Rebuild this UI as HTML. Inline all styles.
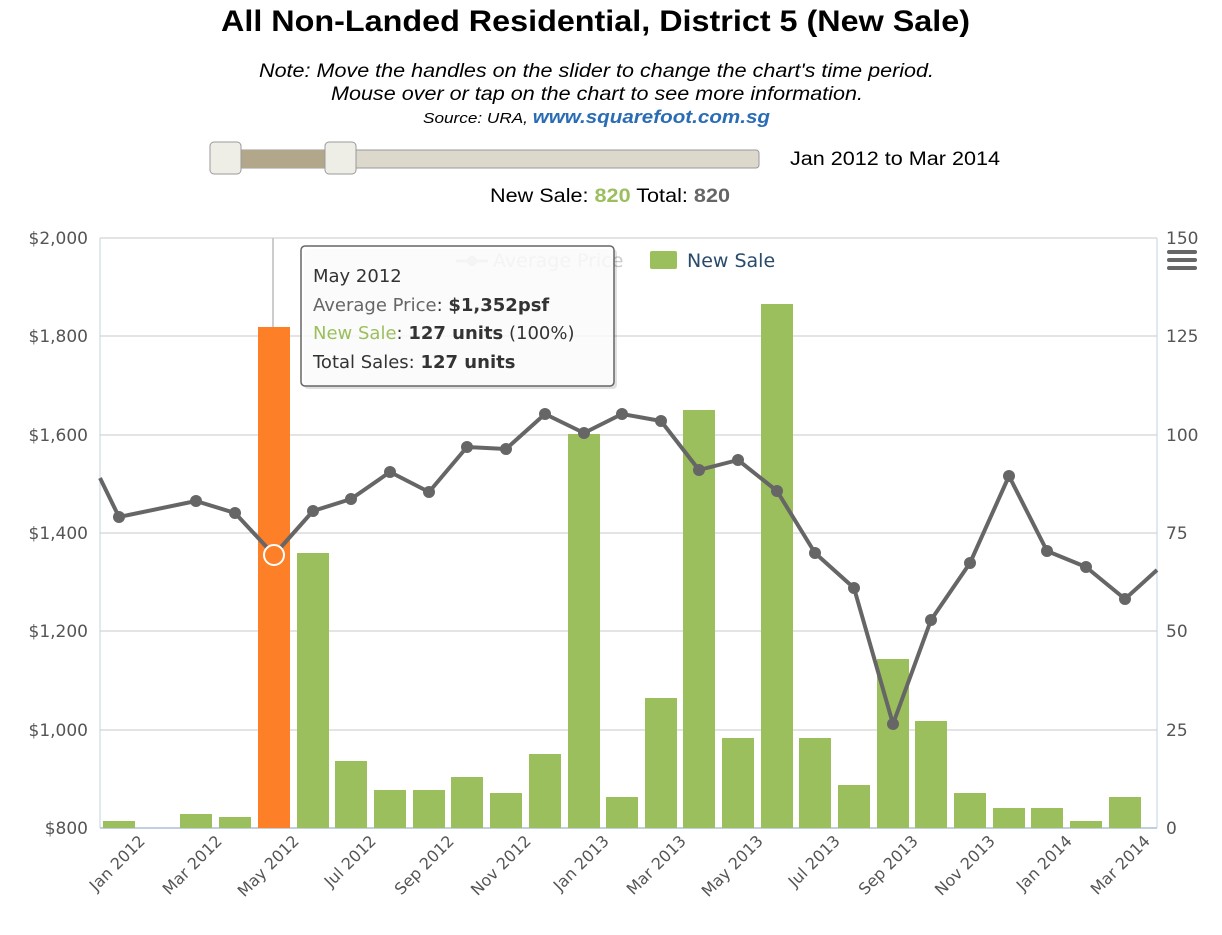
<!DOCTYPE html>
<html><head><meta charset="utf-8"><style>
body{margin:0;background:#fff;width:1222px;height:930px;overflow:hidden;font-family:"Liberation Sans",sans-serif}
</style></head><body>
<svg width="1222" height="930" xmlns="http://www.w3.org/2000/svg" font-family="Liberation Sans, sans-serif">
<text x="221" y="31" font-size="30" font-weight="bold" textLength="749" lengthAdjust="spacingAndGlyphs">All Non-Landed Residential, District 5 (New Sale)</text>
<text x="259" y="77" font-size="19" font-style="italic" textLength="675" lengthAdjust="spacingAndGlyphs">Note: Move the handles on the slider to change the chart's time period.</text>
<text x="331" y="100" font-size="19" font-style="italic" textLength="532" lengthAdjust="spacingAndGlyphs">Mouse over or tap on the chart to see more information.</text>
<text x="423" y="123" font-size="15" font-style="italic" textLength="347" lengthAdjust="spacingAndGlyphs">Source: URA, <tspan fill="#2a6db5" font-weight="bold" font-size="18">www.squarefoot.com.sg</tspan></text>
<rect x="212" y="150" width="547" height="18" rx="3" fill="#dcd8cc" stroke="#999"/>
<rect x="226" y="150" width="114" height="18" fill="#b3a78b"/>
<rect x="210" y="142" width="31" height="32" rx="4" fill="#efeee6" stroke="#999"/>
<rect x="325" y="142" width="31" height="32" rx="4" fill="#efeee6" stroke="#999"/>
<text x="790" y="165" font-size="19" textLength="210" lengthAdjust="spacingAndGlyphs">Jan 2012 to Mar 2014</text>
<text x="490" y="202" font-size="19" textLength="240" lengthAdjust="spacingAndGlyphs">New Sale: <tspan fill="#9bbf5c" font-weight="bold">820</tspan> Total: <tspan fill="#666" font-weight="bold">820</tspan></text>
<g stroke="#c8c8c8" stroke-width="1">
<line x1="100" y1="238" x2="1157" y2="238"/><line x1="100" y1="336" x2="1157" y2="336"/><line x1="100" y1="435" x2="1157" y2="435"/><line x1="100" y1="533" x2="1157" y2="533"/><line x1="100" y1="631" x2="1157" y2="631"/><line x1="100" y1="730" x2="1157" y2="730"/>
</g>
<line x1="100" y1="238" x2="100" y2="828" stroke="#c0d0e0"/>
<line x1="1157" y1="238" x2="1157" y2="828" stroke="#c0d0e0"/>
<line x1="100" y1="828" x2="1157" y2="828" stroke="#c0d0e0" stroke-width="2"/>
<line x1="273" y1="238" x2="273" y2="828" stroke="#ccc" stroke-width="2"/>
<g fill="#9bbf5c">
<rect x="103" y="821" width="32" height="7"/>
<rect x="180" y="814" width="32" height="14"/>
<rect x="219" y="817" width="32" height="11"/>
<rect x="297" y="553" width="32" height="275"/>
<rect x="335" y="761" width="32" height="67"/>
<rect x="374" y="790" width="32" height="38"/>
<rect x="413" y="790" width="32" height="38"/>
<rect x="451" y="777" width="32" height="51"/>
<rect x="490" y="793" width="32" height="35"/>
<rect x="529" y="754" width="32" height="74"/>
<rect x="568" y="434" width="32" height="394"/>
<rect x="606" y="797" width="32" height="31"/>
<rect x="645" y="698" width="32" height="130"/>
<rect x="683" y="410" width="32" height="418"/>
<rect x="722" y="738" width="32" height="90"/>
<rect x="761" y="304" width="32" height="524"/>
<rect x="799" y="738" width="32" height="90"/>
<rect x="838" y="785" width="32" height="43"/>
<rect x="877" y="659" width="32" height="169"/>
<rect x="915" y="721" width="32" height="107"/>
<rect x="954" y="793" width="32" height="35"/>
<rect x="993" y="808" width="32" height="20"/>
<rect x="1031" y="808" width="32" height="20"/>
<rect x="1070" y="821" width="32" height="7"/>
<rect x="1109" y="797" width="32" height="31"/>
</g>
<rect x="258" y="327" width="32" height="501" fill="#fd7f28"/>
<polyline fill="none" stroke="#666" stroke-width="4" stroke-linejoin="round" points="100,478 119,517 196,501 235,513 274,555 313,511 351,499 390,472 429,492 467,447 506,449 545,414 584,433 622,414 661,421 699,470 738,460 777,491 815,553 854,588 893,724 931,620 970,563 1009,476 1047,551 1086,567 1125,599 1157,570"/>
<g fill="#666">
<circle cx="119" cy="517" r="6"/><circle cx="196" cy="501" r="6"/><circle cx="235" cy="513" r="6"/><circle cx="313" cy="511" r="6"/><circle cx="351" cy="499" r="6"/><circle cx="390" cy="472" r="6"/><circle cx="429" cy="492" r="6"/><circle cx="467" cy="447" r="6"/><circle cx="506" cy="449" r="6"/><circle cx="545" cy="414" r="6"/><circle cx="584" cy="433" r="6"/><circle cx="622" cy="414" r="6"/><circle cx="661" cy="421" r="6"/><circle cx="699" cy="470" r="6"/><circle cx="738" cy="460" r="6"/><circle cx="777" cy="491" r="6"/><circle cx="815" cy="553" r="6"/><circle cx="854" cy="588" r="6"/><circle cx="893" cy="724" r="6"/><circle cx="931" cy="620" r="6"/><circle cx="970" cy="563" r="6"/><circle cx="1009" cy="476" r="6"/><circle cx="1047" cy="551" r="6"/><circle cx="1086" cy="567" r="6"/><circle cx="1125" cy="599" r="6"/>
</g>
<circle cx="274" cy="555" r="10" fill="#fd7f28" stroke="#fff" stroke-width="2"/>
<g font-family="DejaVu Sans, sans-serif">
<g font-size="17" fill="#555" text-anchor="end">
<text x="88" y="244">$2,000</text><text x="88" y="342">$1,800</text><text x="88" y="441">$1,600</text><text x="88" y="539">$1,400</text><text x="88" y="637">$1,200</text><text x="88" y="736">$1,000</text><text x="88" y="834">$800</text>
</g>
<g font-size="17" fill="#555" text-anchor="start">
<text x="1166" y="244">150</text><text x="1166" y="342">125</text><text x="1166" y="441">100</text><text x="1166" y="539">75</text><text x="1166" y="637">50</text><text x="1166" y="736">25</text><text x="1166" y="834">0</text>
</g>
<g font-size="16" fill="#555" text-anchor="end">
<text transform="translate(146,842) rotate(-45)">Jan 2012</text>
<text transform="translate(223,842) rotate(-45)">Mar 2012</text>
<text transform="translate(300,842) rotate(-45)">May 2012</text>
<text transform="translate(377,842) rotate(-45)">Jul 2012</text>
<text transform="translate(455,842) rotate(-45)">Sep 2012</text>
<text transform="translate(532,842) rotate(-45)">Nov 2012</text>
<text transform="translate(610,842) rotate(-45)">Jan 2013</text>
<text transform="translate(687,842) rotate(-45)">Mar 2013</text>
<text transform="translate(764,842) rotate(-45)">May 2013</text>
<text transform="translate(841,842) rotate(-45)">Jul 2013</text>
<text transform="translate(919,842) rotate(-45)">Sep 2013</text>
<text transform="translate(996,842) rotate(-45)">Nov 2013</text>
<text transform="translate(1073,842) rotate(-45)">Jan 2014</text>
<text transform="translate(1151,842) rotate(-45)">Mar 2014</text>
</g>
<line x1="456" y1="261" x2="488" y2="261" stroke="#ccc" stroke-width="3"/><circle cx="472" cy="261" r="5" fill="#ccc"/>
<text x="493" y="267" font-size="19" fill="#ccc">Average Price</text>
<rect x="650" y="251" width="27" height="18" rx="2" fill="#9bbf5c"/>
<text x="687" y="267" font-size="19" fill="#2a4a6a">New Sale</text>
<g fill="#666"><rect x="1167" y="250" width="30" height="4" rx="2"/><rect x="1167" y="258" width="30" height="4" rx="2"/><rect x="1167" y="266" width="30" height="4" rx="2"/></g>
<rect x="304" y="249" width="313" height="140" rx="4" fill="#000" fill-opacity="0.12"/>
<rect x="301" y="246" width="313" height="140" rx="4" fill="#fff" fill-opacity="0.85" stroke="#666" stroke-width="1.5"/>
<g font-size="18" fill="#333">
<text x="313" y="282">May 2012</text>
<text x="313" y="311"><tspan fill="#666">Average Price</tspan>: <tspan font-weight="bold">$1,352psf</tspan></text>
<text x="313" y="339"><tspan fill="#9bbf5c">New Sale</tspan>: <tspan font-weight="bold">127 units</tspan> (100%)</text>
<text x="313" y="368">Total Sales: <tspan font-weight="bold">127 units</tspan></text>
</g>
</g>
</svg>
</body></html>
